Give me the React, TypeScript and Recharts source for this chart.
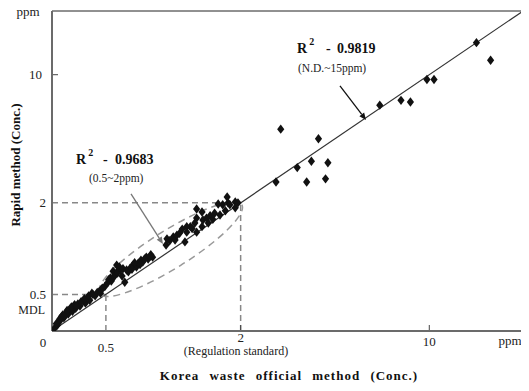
import { ReferenceDot, ReferenceLine, Scatter, ScatterChart, XAxis, YAxis } from "recharts";

// piecewise axis: each stretch between knots gets its own length (in axis units)
const KNOT_VALUES = [0, 0.5, 2, 10];
const KNOT_UNITS = [0, 1, 3.5, 7];

const X_TICKS = [0, 0.5, 2, 10];
const Y_TICKS = [0.5, 2, 10];

// Korea waste official method (ppm)
const OFFICIAL = [
  0.02, 0.05, 0.06, 0.08, 0.09, 0.11, 0.13, 0.15, 0.17, 0.19, 0.2, 0.22, 0.24, 0.26, 0.29, 0.31, 0.33, 0.35,
  0.37, 0.4, 0.44, 0.46, 0.49, 0.52, 0.55, 0.58, 0.6, 0.62, 0.64, 0.66, 0.68, 0.71, 0.75, 0.77, 0.8, 0.84,
  0.86, 0.89, 0.91, 0.95, 0.97, 1.0, 1.02, 1.17, 1.18, 1.21, 1.25, 1.27, 1.29, 1.35, 1.38, 1.4, 1.4, 1.44,
  1.49, 1.51, 1.51, 1.51, 1.57, 1.57, 1.58, 1.64, 1.66, 1.71, 1.75, 1.77, 1.8, 1.83, 1.85, 1.86, 1.88, 1.94,
  1.94, 1.97, 0.04, 0.07, 0.1, 0.12, 0.14, 0.18, 0.21, 0.23, 0.27, 0.3, 0.34, 0.38, 0.42, 0.45, 0.47, 0.53,
  0.56, 0.59, 0.63, 0.65, 0.69, 0.73, 0.79, 0.82, 0.88, 0.93, 0.99, 1.32, 1.46, 1.62, 1.69,
  3.5, 3.7, 4.4, 4.8, 5.0, 5.3, 5.6, 5.7, 7.9, 8.8, 9.2, 9.9, 10.2, 12.0, 12.6,
];
// rapid method (ppm)
const RAPID = [
  0.03, 0.08, 0.12, 0.15, 0.2, 0.18, 0.25, 0.23, 0.3, 0.27, 0.34, 0.31, 0.37, 0.34, 0.41, 0.38, 0.45, 0.42,
  0.52, 0.48, 0.55, 0.59, 0.63, 0.69, 0.77, 0.88, 0.82, 0.98, 0.9, 0.9, 0.8, 0.7, 0.87, 0.93, 0.98, 0.95,
  1.01, 1.06, 1.03, 1.11, 1.08, 1.15, 1.11, 1.31, 1.41, 1.38, 1.44, 1.39, 1.47, 1.57, 1.36, 1.52, 1.61, 1.61,
  1.67, 1.75, 1.52, 1.9, 1.61, 1.85, 1.72, 1.67, 1.79, 1.83, 1.98, 1.8, 1.97, 1.87, 2.37, 2.0, 1.97, 1.92,
  2.06, 2.0, 0.1, 0.16, 0.22, 0.21, 0.28, 0.33, 0.36, 0.34, 0.4, 0.44, 0.48, 0.5, 0.53, 0.52, 0.6, 0.74,
  0.72, 0.79, 0.85, 0.95, 0.92, 0.9, 0.91, 1.02, 0.99, 1.08, 1.12, 1.5, 1.58, 1.75, 1.73,
  3.3, 6.6, 4.2, 3.3, 4.6, 6.0, 3.5, 4.5, 8.1, 8.4, 8.3, 9.7, 9.7, 12.0, 10.9,
];

const FIT_RANGE = [0, 15];
const MDL = 0.5;
const REGULATION = 2;

const X_MAX = 8.85;
const Y_MAX = 8.74;
const FONT = "'Liberation Serif', 'Times New Roman', serif";

const toUnits = (v: number) => {
  const n = KNOT_VALUES.length;
  let i = 1;
  while (i < n - 1 && v > KNOT_VALUES[i]) i++;
  const v0 = KNOT_VALUES[i - 1];
  const v1 = KNOT_VALUES[i];
  const u0 = KNOT_UNITS[i - 1];
  const u1 = KNOT_UNITS[i];
  return u0 + ((v - v0) * (u1 - u0)) / (v1 - v0);
};

const points = OFFICIAL.map((v, i) => ({ x: toUnits(v), y: toUnits(RAPID[i]) }));
const xTickUnits = X_TICKS.map(toUnits);
const yTickUnits = Y_TICKS.map(toUnits);

const Diamond = (p: any) => (
  <polygon
    points={`${p.cx},${p.cy - 4.7} ${p.cx + 3.6},${p.cy} ${p.cx},${p.cy + 4.7} ${p.cx - 3.6},${p.cy}`}
    fill="#111"
  />
);

const XTick = ({ x, y, payload }: any) => {
  const i = xTickUnits.findIndex((u) => Math.abs(u - payload.value) < 1e-6);
  const v = X_TICKS[i];
  const dx = v === 0 ? -9 : 0;
  const dy = v === 0 ? 16 : v === 0.5 ? 21 : v === 2 ? 11 : 15;
  return (
    <g>
      {v >= 2 && <line x1={x} y1={y - 1} x2={x} y2={y - 6} stroke="#444" />}
      <text x={x + dx} y={y + dy} textAnchor="middle" fontFamily={FONT} fontSize={13} fill="#222">
        {v}
      </text>
    </g>
  );
};

const YTick = ({ x, y, payload }: any) => {
  const i = yTickUnits.findIndex((u) => Math.abs(u - payload.value) < 1e-6);
  const v = Y_TICKS[i];
  return (
    <g>
      {v === 10 && <line x1={x + 1} y1={y} x2={x + 6} y2={y} stroke="#444" />}
      <text x={x - (v === 10 ? 10 : 6)} y={y + 4.5} textAnchor="end" fontFamily={FONT} fontSize={13} fill="#222">
        {v}
      </text>
      {v === MDL && (
        <text x={x - 7} y={y + 20} textAnchor="end" fontFamily={FONT} fontSize={12} fill="#222">
          MDL
        </text>
      )}
    </g>
  );
};

const arrow = (color: string) => (p: any) => {
  const { x1, y1, x2, y2 } = p;
  const a = Math.atan2(y2 - y1, x2 - x1);
  const bx = x2 - 7 * Math.cos(a);
  const by = y2 - 7 * Math.sin(a);
  const s = Math.sin(a) * 3;
  const c = Math.cos(a) * 3;
  return (
    <g>
      <line x1={x1} y1={y1} x2={bx} y2={by} stroke={color} strokeWidth={1.3} />
      <polygon points={`${x2},${y2} ${bx - s},${by + c} ${bx + s},${by - c}`} fill={color} />
    </g>
  );
};

const Ellipse = (p: any) => (
  <ellipse
    cx={p.cx}
    cy={p.cy}
    rx={84}
    ry={19}
    transform={`rotate(-32 ${p.cx} ${p.cy})`}
    fill="none"
    stroke="#999"
    strokeWidth={1.5}
    strokeDasharray="7 5"
  />
);

const dash = { stroke: "#888", strokeWidth: 1.5, strokeDasharray: "6 4" };

export default function App() {
  const m = toUnits(MDL);
  const r = toUnits(REGULATION);
  return (
    <div style={{ margin: -8, width: 529, height: 391 }}>
      <ScatterChart width={529} height={391} margin={{ top: 11, right: 0, bottom: 0, left: 0 }}>
        <XAxis
          type="number"
          dataKey="x"
          domain={[0, X_MAX]}
          ticks={xTickUnits}
          interval={0}
          height={60}
          tickSize={0}
          tickMargin={0}
          tickLine={false}
          axisLine={{ stroke: "#6b6b6b", strokeWidth: 2 }}
          tick={<XTick />}
          allowDataOverflow
        />
        <YAxis
          type="number"
          dataKey="y"
          domain={[0, Y_MAX]}
          ticks={yTickUnits}
          interval={0}
          width={52}
          tickSize={0}
          tickMargin={0}
          tickLine={false}
          axisLine={{ stroke: "#6b6b6b", strokeWidth: 2 }}
          tick={<YTick />}
          allowDataOverflow
        />
        <ReferenceLine y={Y_MAX} stroke="#222" strokeWidth={1} />
        <ReferenceLine segment={[{ x: 0, y: m }, { x: m, y: m }]} {...dash} />
        <ReferenceLine segment={[{ x: m, y: 0 }, { x: m, y: m }]} {...dash} />
        <ReferenceLine segment={[{ x: 0, y: r }, { x: r, y: r }]} {...dash} />
        <ReferenceLine segment={[{ x: r, y: 0 }, { x: r, y: r }]} {...dash} />
        <ReferenceDot x={toUnits(1.22)} y={toUnits(1.24)} shape={Ellipse} />
        <Scatter data={points} shape={Diamond} isAnimationActive={false} />
        <ReferenceLine
          segment={[
            { x: toUnits(FIT_RANGE[0]), y: toUnits(FIT_RANGE[0]) },
            { x: toUnits(FIT_RANGE[1]), y: toUnits(FIT_RANGE[1]) },
          ]}
          stroke="#333"
          strokeWidth={1.2}
          ifOverflow="hidden"
        />
        <ReferenceLine segment={[{ x: 5.343, y: 6.694 }, { x: 5.826, y: 5.765 }]} shape={arrow("#111")} />
        <ReferenceLine segment={[{ x: 1.466, y: 3.743 }, { x: 2.059, y: 2.377 }]} shape={arrow("#777")} />

        <text x={297} y={53} fontFamily={FONT} fontSize={14} fontWeight="bold" fill="#111">
          R<tspan dx={2} dy={-8} fontSize={10}>2</tspan>
          <tspan x={326} y={53}>-</tspan>
          <tspan x={337} y={53}>0.9819</tspan>
        </text>
        <text x={298} y={72} fontFamily={FONT} fontSize={11.5} fill="#222">
          (N.D.~15ppm)
        </text>
        <text x={76} y={164} fontFamily={FONT} fontSize={14} fontWeight="bold" fill="#111">
          R<tspan dx={2} dy={-8} fontSize={10}>2</tspan>
          <tspan x={103} y={164}>-</tspan>
          <tspan x={115} y={164}>0.9683</tspan>
        </text>
        <text x={89} y={182} fontFamily={FONT} fontSize={11.5} fill="#222">
          (0.5~2ppm)
        </text>
        <text x={28} y={16} textAnchor="middle" fontFamily={FONT} fontSize={13} fill="#222">
          ppm
        </text>
        <text x={510} y={345} textAnchor="middle" fontFamily={FONT} fontSize={13} fill="#222">
          ppm
        </text>
        <text x={236} y={355} textAnchor="middle" fontFamily={FONT} fontSize={12} fill="#222">
          (Regulation standard)
        </text>
        <text
          x={289}
          y={380}
          textAnchor="middle"
          fontFamily={FONT}
          fontSize={13}
          fontWeight="bold"
          letterSpacing={1}
          wordSpacing={6}
          fill="#111"
        >
          Korea waste official method (Conc.)
        </text>
        <text
          x={20}
          y={165}
          textAnchor="middle"
          transform="rotate(-90 20 165)"
          fontFamily={FONT}
          fontSize={13}
          fontWeight="bold"
          fill="#111"
        >
          Rapid method (Conc.)
        </text>
      </ScatterChart>
    </div>
  );
}
